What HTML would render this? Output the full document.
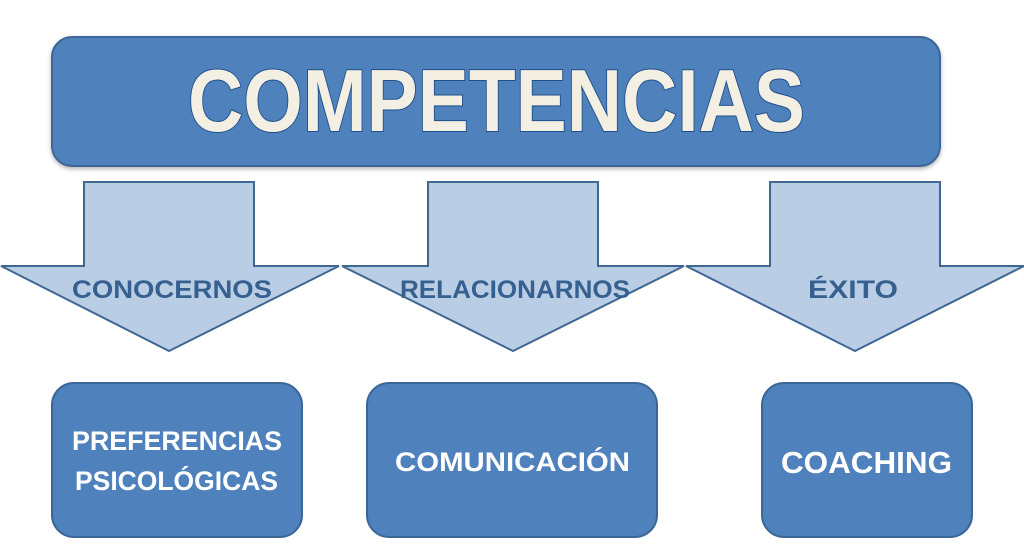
<!DOCTYPE html>
<html><head><style>
body{margin:0;width:1024px;height:555px;background:#fff;overflow:hidden;font-family:"Liberation Sans",sans-serif}
</style></head><body>
<svg width="1024" height="555" xmlns="http://www.w3.org/2000/svg">
<defs>
<filter id="s" x="-10%" y="-10%" width="120%" height="130%"><feDropShadow dx="0" dy="2" stdDeviation="2" flood-color="#000" flood-opacity="0.3"/></filter>
</defs>
<rect x="52" y="37" width="888" height="129" rx="20" fill="#4f81bd" stroke="#3c6696" stroke-width="2" filter="url(#s)"/>
<text x="188" y="131" textLength="617" lengthAdjust="spacingAndGlyphs" font-family="Liberation Sans" font-size="88" font-weight="bold" fill="#f3efe2" stroke="#1f4e8a" stroke-width="2" paint-order="stroke">COMPETENCIAS</text>
<g fill="#b9cde5" stroke="#3f6792" stroke-width="2">
<polygon points="84,182 254,182 254,266 339,266 169,351 1,266 84,266"/>
<polygon points="428,182 598,182 598,266 684,266 513,351 342,266 428,266"/>
<polygon points="770,182 940,182 940,266 1024,266 855,351 686,266 770,266"/>
</g>
<g font-size="25" fill="#36608f" font-weight="bold">
<text x="72" y="298" textLength="200" lengthAdjust="spacingAndGlyphs">CONOCERNOS</text>
<text x="400" y="298" textLength="230" lengthAdjust="spacingAndGlyphs">RELACIONARNOS</text>
<text x="808" y="298" textLength="90" lengthAdjust="spacingAndGlyphs">ÉXITO</text>
</g>
<g fill="#4f81bd" stroke="#3c6696" stroke-width="2">
<rect x="52" y="383" width="250" height="154" rx="22"/>
<rect x="367" y="383" width="290" height="154" rx="22"/>
<rect x="762" y="383" width="210" height="154" rx="22"/>
</g>
<g font-size="27" fill="#fff" font-weight="bold">
<text x="72" y="450" textLength="210" lengthAdjust="spacingAndGlyphs">PREFERENCIAS</text>
<text x="75" y="490" textLength="203" lengthAdjust="spacingAndGlyphs">PSICOLÓGICAS</text>
<text x="395" y="471" textLength="235" lengthAdjust="spacingAndGlyphs">COMUNICACIÓN</text>
<text x="781" y="473" font-size="31" textLength="171" lengthAdjust="spacingAndGlyphs">COACHING</text>
</g>
</svg>
</body></html>
